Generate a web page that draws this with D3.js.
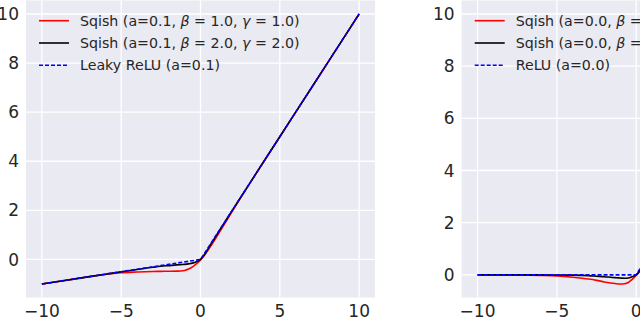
<!DOCTYPE html>
<html>
<head>
<meta charset="utf-8">
<script src="https://cdn.jsdelivr.net/npm/d3@7"></script>
<style>
  html, body { margin: 0; padding: 0; background: #fff; }
  svg { display: block; font-family: "DejaVu Sans", sans-serif; }
</style>
</head>
<body>
<svg id="chart" width="640" height="320"></svg>
<script>
const xs = [-10, -8, -6, -5, -4, -3, -2.5, -2, -1.5, -1.25, -1, -0.75, -0.5, -0.25, 0, 0.25, 0.5, 1, 1.5, 2, 3, 4, 6, 8, 10];

// left panel (a = 0.1)
const leftRed   = [-1.0, -0.8, -0.61, -0.54, -0.51, -0.49, -0.485, -0.48, -0.475, -0.47, -0.45, -0.39, -0.3, -0.17, -0.02, 0.17, 0.4, 0.9, 1.43, 1.96, 2.99, 4.0, 6.0, 8.0, 10.0];
const leftBlack = [-1.0, -0.8, -0.6, -0.5, -0.41, -0.32, -0.28, -0.25, -0.22, -0.21, -0.2, -0.18, -0.15, -0.09, 0.0, 0.2, 0.46, 0.98, 1.49, 2.0, 3.0, 4.0, 6.0, 8.0, 10.0];
const leakyX = [-10, 0, 10];
const leakyY = [-1, 0, 10];

// right panel (a = 0.0)
const rightRed   = [0.0, -0.005, -0.02, -0.04, -0.09, -0.16, -0.21, -0.27, -0.32, -0.34, -0.35, -0.34, -0.29, -0.17, -0.02, 0.15, 0.37, 0.86, 1.4, 1.94, 2.98, 4.0, 6.0, 8.0, 10.0];
const rightBlack = [0.0, 0.0, 0.0, -0.005, -0.01, -0.03, -0.05, -0.07, -0.1, -0.11, -0.12, -0.13, -0.12, -0.07, 0.0, 0.18, 0.44, 0.97, 1.49, 2.0, 3.0, 4.0, 6.0, 8.0, 10.0];
const reluX = [-10, 0, 10];
const reluY = [0, 0, 10];

const leftLabels  = ["Sqish (a=0.1, |β| = 1.0, |γ| = 1.0)", "Sqish (a=0.1, |β| = 2.0, |γ| = 2.0)", "Leaky ReLU (a=0.1)"];
const rightLabels = ["Sqish (a=0.0, |β| = 1.0, |γ| = 1.0)", "Sqish (a=0.0, |β| = 2.0, |γ| = 2.0)", "ReLU (a=0.0)"];

const xTicks = [-10, -5, 0, 5, 10];
const yTicks = [0, 2, 4, 6, 8, 10];

const colors = ["#ff0000", "#000000", "#0000ff"];

const svg = d3.select("#chart");

function panel(left, yMin, series, labels) {
  const width = 349, top = 0.5, bottom = 297.5;
  const x = d3.scaleLinear().domain([-11, 11]).range([left, left + width]);
  const span = 10 - yMin;
  const y = d3.scaleLinear().domain([yMin - span * 0.05, 10 + span * 0.05]).range([bottom, top]);

  const g = svg.append("g");
  g.append("rect")
    .attr("x", left).attr("y", top)
    .attr("width", width).attr("height", bottom - top)
    .attr("fill", "#eaeaf2");

  // grid
  g.selectAll(".vg").data(xTicks).join("line")
    .attr("x1", d => x(d)).attr("x2", d => x(d))
    .attr("y1", top).attr("y2", bottom)
    .attr("stroke", "#fff").attr("stroke-width", 1.3);
  g.selectAll(".hg").data(yTicks).join("line")
    .attr("y1", d => y(d)).attr("y2", d => y(d))
    .attr("x1", left).attr("x2", left + width)
    .attr("stroke", "#fff").attr("stroke-width", 1.3);

  // tick labels
  const fmt = d3.format("d");
  g.selectAll(".xl").data(xTicks).join("text")
    .attr("x", d => x(d)).attr("y", 317)
    .attr("text-anchor", "middle")
    .attr("font-size", 17).attr("fill", "#262626")
    .text(d => fmt(d));
  g.selectAll(".yl").data(yTicks).join("text")
    .attr("x", left - 7).attr("y", d => y(d))
    .attr("dy", "0.36em")
    .attr("text-anchor", "end")
    .attr("font-size", 17).attr("fill", "#262626")
    .text(d => fmt(d));

  // curves
  const clip = "clip" + Math.round(left);
  svg.append("clipPath").attr("id", clip).append("rect")
    .attr("x", left).attr("y", top).attr("width", width).attr("height", bottom - top);
  const lines = g.append("g").attr("clip-path", `url(#${clip})`);

  series.forEach((s, i) => {
    const pts = s.x.map((v, j) => [v, s.y[j]]);
    lines.append("path")
      .datum(pts)
      .attr("fill", "none")
      .attr("stroke", colors[i])
      .attr("stroke-width", 1.6)
      .attr("stroke-dasharray", i === 2 ? "4,2" : null)
      .attr("d", d3.line().x(d => x(d[0])).y(d => y(d[1]))
        .curve(i === 2 ? d3.curveLinear : d3.curveMonotoneX));
  });

  // legend
  labels.forEach((lab, i) => {
    const ly = 20.7 + i * 22.3;
    g.append("line")
      .attr("x1", left + 13).attr("x2", left + 43)
      .attr("y1", ly).attr("y2", ly)
      .attr("stroke", colors[i]).attr("stroke-width", 1.6)
      .attr("stroke-dasharray", i === 2 ? "4,2" : null);
    const t = g.append("text")
      .attr("x", left + 54).attr("y", ly)
      .attr("dy", "0.36em")
      .attr("font-size", 14.2).attr("fill", "#262626");
    lab.split("|").forEach((part, k) => {
      t.append("tspan").attr("font-style", k % 2 ? "italic" : null).text(part);
    });
  });
}

panel(26, -1, [
  { x: xs, y: leftRed },
  { x: xs, y: leftBlack },
  { x: leakyX, y: leakyY }
], leftLabels);

panel(461.7, -0.35, [
  { x: xs, y: rightRed },
  { x: xs, y: rightBlack },
  { x: reluX, y: reluY }
], rightLabels);
</script>
</body>
</html>
